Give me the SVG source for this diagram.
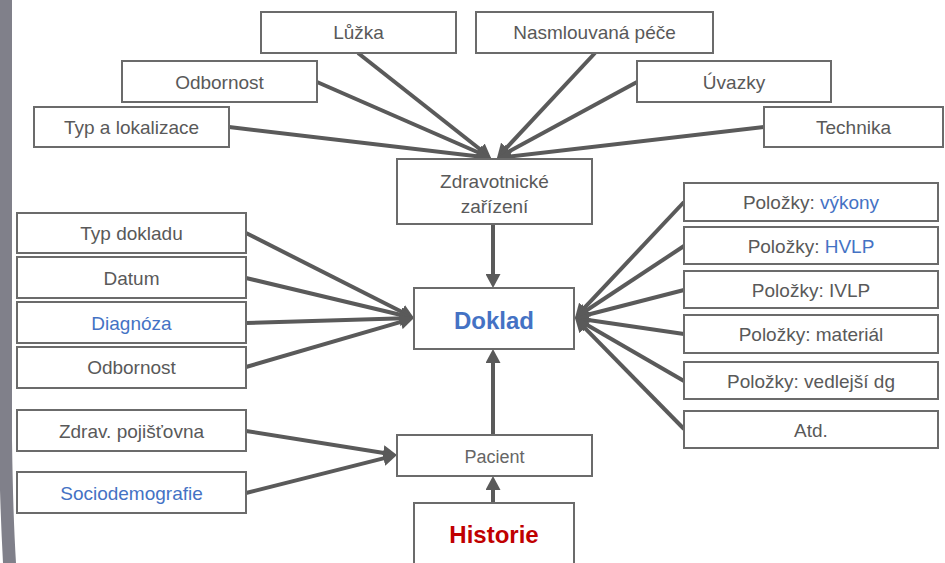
<svg xmlns="http://www.w3.org/2000/svg" width="945" height="563" viewBox="0 0 945 563">
<defs>
<marker id="ah" markerUnits="userSpaceOnUse" markerWidth="14" markerHeight="15" refX="4" refY="7.5" orient="auto">
<path d="M0,0 L14,7.5 L0,15 z" fill="#5a5a5a"/>
</marker>
<style>
.b{fill:#fff;stroke:#6b6b6b;stroke-width:2}
.t{font-family:"Liberation Sans",Arial,sans-serif;font-size:19px;fill:#595959;text-anchor:middle}
.blue{fill:#4472c4}
.big{font-size:24px;font-weight:bold}
.c line{stroke:#5a5a5a;stroke-width:4;marker-end:url(#ah)}
</style>
</defs>
<rect width="945" height="563" fill="#fff"/>
<path d="M0,0 L12,0 L12,440 Q13,515 16,563 L3,563 Q1,525 0,490 Z" fill="#80808a"/>

<g class="c" id="connectors">
<line x1="358" y1="53" x2="483.2" y2="151.8"/>
<line x1="317" y1="82" x2="481.8" y2="154"/>
<line x1="229" y1="127" x2="481.1" y2="156.8"/>
<line x1="595" y1="53" x2="503.8" y2="150.7"/>
<line x1="637" y1="82" x2="505.8" y2="153.2"/>
<line x1="764" y1="127" x2="506.9" y2="156.8"/>
<line x1="493" y1="224" x2="493" y2="278"/>
<line x1="493" y1="435" x2="493" y2="359"/>
<line x1="493" y1="503" x2="493" y2="486"/>
<line x1="246" y1="233" x2="405.1" y2="313.5"/>
<line x1="246" y1="278" x2="404.3" y2="315.7"/>
<line x1="246" y1="323" x2="404" y2="318.3"/>
<line x1="246" y1="367" x2="404.4" y2="320.8"/>
<line x1="684" y1="202" x2="581.8" y2="310.7"/>
<line x1="684" y1="246" x2="583.3" y2="312.5"/>
<line x1="684" y1="290" x2="584.7" y2="315.5"/>
<line x1="684" y1="334" x2="584.9" y2="319.5"/>
<line x1="684" y1="381" x2="583.7" y2="323"/>
<line x1="684" y1="429" x2="582" y2="325.1"/>
<line x1="246" y1="431" x2="387.1" y2="453.4"/>
<line x1="246" y1="493" x2="387.3" y2="457.4"/>
</g>

<g id="luzka"><rect class="b" x="261" y="12" width="195" height="41"/><text class="t" x="358.5" y="39">Lůžka</text></g>
<g id="nasmlouvana"><rect class="b" x="476" y="12" width="237" height="41"/><text class="t" x="594.5" y="39">Nasmlouvaná péče</text></g>
<g id="odbornost-zz"><rect class="b" x="122" y="61" width="195" height="41"/><text class="t" x="219.5" y="88.5">Odbornost</text></g>
<g id="uvazky"><rect class="b" x="637" y="61" width="194" height="41"/><text class="t" x="734" y="88.5">Úvazky</text></g>
<g id="typ-lokalizace"><rect class="b" x="34" y="107" width="195" height="40"/><text class="t" x="131.5" y="134">Typ a lokalizace</text></g>
<g id="technika"><rect class="b" x="764" y="107" width="179" height="40"/><text class="t" x="853.5" y="134">Technika</text></g>
<g id="zz"><rect class="b" x="397" y="159" width="195" height="65"/><text class="t" x="494.5" y="188">Zdravotnické</text><text class="t" x="494.5" y="213">zařízení</text></g>

<g id="doklad"><rect class="b" x="414" y="288" width="160" height="61"/><text class="t blue big" x="494" y="329">Doklad</text></g>

<g id="typ-dokladu"><rect class="b" x="17" y="213" width="229" height="40"/><text class="t" x="131.5" y="240">Typ dokladu</text></g>
<g id="datum"><rect class="b" x="17" y="257" width="229" height="41"/><text class="t" x="131.5" y="284.5">Datum</text></g>
<g id="diagnoza"><rect class="b" x="17" y="302" width="229" height="41"/><text class="t blue" x="131.5" y="329.5">Diagnóza</text></g>
<g id="odbornost-d"><rect class="b" x="17" y="347" width="229" height="41"/><text class="t" x="131.5" y="374">Odbornost</text></g>

<g id="vykony"><rect class="b" x="684" y="183" width="254" height="38"/><text class="t" x="811" y="209">Položky: <tspan class="blue">výkony</tspan></text></g>
<g id="hvlp"><rect class="b" x="684" y="227" width="254" height="37"/><text class="t" x="811" y="252.5">Položky: <tspan class="blue">HVLP</tspan></text></g>
<g id="ivlp"><rect class="b" x="684" y="271" width="254" height="37"/><text class="t" x="811" y="296.5">Položky: IVLP</text></g>
<g id="material"><rect class="b" x="684" y="315" width="254" height="38"/><text class="t" x="811" y="341">Položky: materiál</text></g>
<g id="vedlejsi"><rect class="b" x="684" y="362" width="254" height="37"/><text class="t" x="811" y="387.5">Položky: vedlejší dg</text></g>
<g id="atd"><rect class="b" x="684" y="411" width="254" height="37"/><text class="t" x="811" y="436.5">Atd.</text></g>

<g id="pojistovna"><rect class="b" x="17" y="410" width="229" height="41"/><text class="t" x="131.5" y="437.5">Zdrav. pojišťovna</text></g>
<g id="sociodemografie"><rect class="b" x="17" y="472" width="229" height="41"/><text class="t blue" x="131.5" y="499.5">Sociodemografie</text></g>
<g id="pacient"><rect class="b" x="397" y="435" width="195" height="41"/><text class="t" x="494.5" y="463" style="font-size:18px;fill:#666">Pacient</text></g>
<g id="historie"><rect class="b" x="414" y="503" width="160" height="70"/><text class="t big" x="494" y="543" style="fill:#c00000">Historie</text></g>
</svg>
